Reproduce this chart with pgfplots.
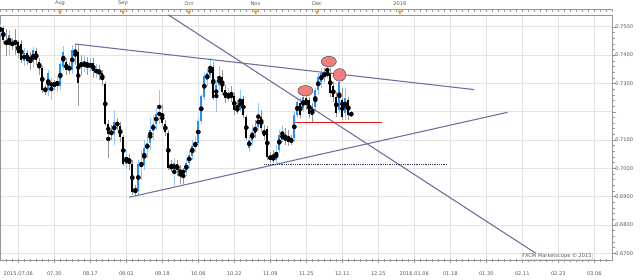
\documentclass[border=0pt]{standalone}
\usepackage{pgfplots}
\pgfplotsset{compat=1.18}
\usepackage{pgfplotstable}
\usepackage{fontspec}
\setmainfont{DejaVu Sans}

\definecolor{upbody}{RGB}{30,144,255}
\definecolor{upwick}{RGB}{150,200,245}
\definecolor{dnwick}{RGB}{150,150,150}
\definecolor{trend}{RGB}{112,112,160}
\definecolor{gridc}{RGB}{228,228,228}
\definecolor{axc}{RGB}{150,150,150}
\definecolor{txt}{RGB}{90,90,90}
\definecolor{ell}{RGB}{240,128,128}
\definecolor{tri}{RGB}{245,160,40}
\definecolor{pricebg}{RGB}{150,210,245}
\definecolor{redline}{RGB}{225,20,20}
\definecolor{dotc}{RGB}{50,50,90}

\pgfplotstableread{
i o h l c
-6 0.7481 0.7510 0.7471 0.7499
-5 0.7495 0.7503 0.7439 0.7453
-4 0.7446 0.7492 0.7397 0.7439
-3 0.7435 0.7488 0.7400 0.7471
-2 0.7443 0.7460 0.7418 0.7437
-1 0.7446 0.7492 0.7400 0.7439
0 0.7446 0.7453 0.7390 0.7407
1 0.7439 0.7453 0.7372 0.7383
2 0.7379 0.7425 0.7361 0.7407
3 0.7407 0.7418 0.7365 0.7379
4 0.7390 0.7411 0.7347 0.7383
5 0.7375 0.7428 0.7354 0.7418
6 0.7414 0.7425 0.7365 0.7383
7 0.7375 0.7390 0.7330 0.7354
8 0.7354 0.7361 0.7266 0.7277
9 0.7280 0.7294 0.7259 0.7277
10 0.7277 0.7347 0.7255 0.7337
11 0.7291 0.7319 0.7241 0.7301
12 0.7301 0.7312 0.7277 0.7294
13 0.7294 0.7326 0.7270 0.7308
14 0.7291 0.7375 0.7277 0.7368
15 0.7358 0.7432 0.7347 0.7411
16 0.7375 0.7390 0.7330 0.7347
17 0.7354 0.7375 0.7333 0.7351
18 0.7347 0.7435 0.7333 0.7418
19 0.7418 0.7439 0.7365 0.7407
20 0.7411 0.7435 0.7220 0.7301
21 0.7375 0.7400 0.7330 0.7358
22 0.7358 0.7400 0.7340 0.7375
23 0.7375 0.7393 0.7330 0.7358
24 0.7358 0.7390 0.7340 0.7368
25 0.7372 0.7390 0.7319 0.7344
26 0.7340 0.7368 0.7319 0.7347
27 0.7347 0.7365 0.7312 0.7337
28 0.7337 0.7347 0.7291 0.7312
29 0.7298 0.7305 0.7150 0.7157
30 0.7157 0.7171 0.7037 0.7121
31 0.7128 0.7153 0.7100 0.7121
32 0.7121 0.7206 0.7082 0.7164
33 0.7164 0.7178 0.7135 0.7150
34 0.7150 0.7164 0.7093 0.7111
35 0.7111 0.7118 0.7008 0.7015
36 0.7015 0.7065 0.7001 0.7040
37 0.7037 0.7051 0.6994 0.7019
38 0.7015 0.7030 0.6906 0.6917
39 0.6922 0.6941 0.6906 0.6918
40 0.6920 0.7030 0.6906 0.7015
41 0.7012 0.7065 0.6959 0.7019
42 0.7012 0.7100 0.6994 0.7072
43 0.7068 0.7118 0.7037 0.7090
44 0.7090 0.7178 0.7065 0.7135
45 0.7132 0.7188 0.7100 0.7157
46 0.7157 0.7213 0.7135 0.7192
47 0.7185 0.7277 0.7157 0.7199
48 0.7195 0.7224 0.7150 0.7160
49 0.7157 0.7171 0.7114 0.7128
50 0.7125 0.7135 0.6994 0.7001
51 0.7008 0.7030 0.6987 0.6999
52 0.6994 0.7037 0.6938 0.7019
53 0.7015 0.7030 0.6973 0.6994
54 0.6994 0.7012 0.6945 0.6984
55 0.6991 0.7001 0.6945 0.6985
56 0.6987 0.7037 0.6973 0.7019
57 0.7019 0.7065 0.7001 0.7047
58 0.7044 0.7100 0.7030 0.7079
59 0.7075 0.7114 0.7058 0.7090
60 0.7090 0.7178 0.7079 0.7167
61 0.7167 0.7262 0.7157 0.7255
62 0.7252 0.7340 0.7241 0.7326
63 0.7312 0.7354 0.7291 0.7337
64 0.7330 0.7390 0.7319 0.7358
65 0.7358 0.7375 0.7241 0.7248
66 0.7248 0.7312 0.7199 0.7294
67 0.7294 0.7361 0.7277 0.7322
68 0.7322 0.7347 0.7259 0.7270
69 0.7277 0.7294 0.7231 0.7248
70 0.7248 0.7284 0.7234 0.7259
71 0.7259 0.7291 0.7234 0.7252
72 0.7255 0.7270 0.7188 0.7206
73 0.7210 0.7241 0.7192 0.7206
74 0.7206 0.7277 0.7199 0.7248
75 0.7245 0.7255 0.7178 0.7188
76 0.7181 0.7188 0.7100 0.7107
77 0.7072 0.7118 0.7058 0.7100
78 0.7097 0.7153 0.7082 0.7128
79 0.7146 0.7171 0.7107 0.7125
80 0.7146 0.7231 0.7135 0.7181
81 0.7181 0.7206 0.7128 0.7142
82 0.7135 0.7153 0.7100 0.7114
83 0.7139 0.7150 0.7030 0.7040
84 0.7044 0.7058 0.7019 0.7030
85 0.7040 0.7065 0.7019 0.7030
86 0.7030 0.7082 0.7019 0.7058
87 0.7065 0.7135 0.7054 0.7118
88 0.7100 0.7153 0.7093 0.7125
89 0.7111 0.7142 0.7082 0.7100
90 0.7111 0.7135 0.7079 0.7093
91 0.7100 0.7118 0.7082 0.7095
92 0.7107 0.7199 0.7093 0.7188
93 0.7188 0.7248 0.7178 0.7234
94 0.7231 0.7248 0.7178 0.7188
95 0.7213 0.7259 0.7199 0.7252
96 0.7248 0.7255 0.7206 0.7224
97 0.7241 0.7252 0.7178 0.7192
98 0.7217 0.7231 0.7164 0.7188
99 0.7217 0.7284 0.7199 0.7277
100 0.7277 0.7337 0.7259 0.7322
101 0.7305 0.7354 0.7284 0.7337
102 0.7337 0.7354 0.7305 0.7326
103 0.7326 0.7375 0.7319 0.7340
104 0.7337 0.7354 0.7252 0.7266
105 0.7291 0.7305 0.7234 0.7252
106 0.7252 0.7270 0.7181 0.7195
107 0.7206 0.7326 0.7195 0.7305
108 0.7241 0.7284 0.7171 0.7181
109 0.7195 0.7284 0.7171 0.7248
110 0.7241 0.7252 0.7171 0.7188
111 0.7192 0.7202 0.7181 0.71909
}\candles

\begin{document}
\begin{tikzpicture}
\useasboundingbox (0pt,0pt) rectangle (640pt,279pt);
\begin{axis}[
  at={(0pt,18.3pt)}, anchor=south west, scale only axis,
  width=612.3pt, height=245.7pt,
  xmin=-6.1, xmax=198, ymin=0.6674, ymax=0.75414,
  axis line style={axc, line width=0.5pt},
  grid=major, major grid style={gridc, line width=0.5pt},
  xtick={0,12,...,192},
  xticklabels={2015.07.06,07.30,08.17,09.02,09.18,10.06,10.22,11.09,11.25,12.11,12.25,2016.01.06,01.18,01.30,02.11,02.23,03.06},
  minor xtick={-4,-2,...,196},
  ytick={0.67,0.68,0.69,0.70,0.71,0.72,0.73,0.74,0.75},
  yticklabels={0.6700,0.6800,0.6900,0.7000,0.7100,{},0.7300,0.7400,0.7500},
  minor y tick num=4,
  xtick pos=lower, ytick pos=right, yticklabel pos=right,
  xtick align=center, ytick align=outside,
  major tick length=4pt, minor tick length=2.5pt,
  every tick/.style={axc, line width=0.4pt},
  scaled y ticks=false,
  yticklabel style={font=\fontsize{5.1}{6}\selectfont, text=txt, xshift=-4.5pt},
  xticklabel style={font=\fontsize{5.1}{6}\selectfont, text=txt, yshift=-5pt},
]
% wicks
\addplot[only marks, mark=none, forget plot, error bars/.cd, y dir=both, y explicit, error mark=none,
  error bar style={draw=upwick, solid, line width=0.6pt, line cap=butt}]
  table[x=i, y expr={\thisrow{c}>=\thisrow{o} ? (\thisrow{h}+\thisrow{l})/2 : nan}, y error expr={(\thisrow{h}-\thisrow{l})/2}] {\candles};
\addplot[only marks, mark=none, forget plot, error bars/.cd, y dir=both, y explicit, error mark=none,
  error bar style={draw=dnwick, solid, line width=0.6pt, line cap=butt}]
  table[x=i, y expr={\thisrow{c}<\thisrow{o} ? (\thisrow{h}+\thisrow{l})/2 : nan}, y error expr={(\thisrow{h}-\thisrow{l})/2}] {\candles};
% bodies
\addplot[only marks, mark=none, forget plot, error bars/.cd, y dir=both, y explicit, error mark=none,
  error bar style={draw=upbody, solid, line width=2.3pt, line cap=butt}]
  table[x=i, y expr={\thisrow{c}>=\thisrow{o} ? (\thisrow{o}+\thisrow{c})/2 : nan}, y error expr={(\thisrow{c}-\thisrow{o})/2}] {\candles};
\addplot[only marks, mark=none, forget plot, error bars/.cd, y dir=both, y explicit, error mark=none,
  error bar style={draw=black, solid, line width=2.3pt, line cap=butt}]
  table[x=i, y expr={\thisrow{c}<\thisrow{o} ? (\thisrow{o}+\thisrow{c})/2 : nan}, y error expr={(\thisrow{o}-\thisrow{c})/2}] {\candles};
% trend lines
\addplot[trend, line width=1.1pt] coordinates {(18.9,0.7439) (152,0.7278)};
\addplot[trend, line width=1.1pt] coordinates {(37,0.6898) (163.1,0.7198)};
\addplot[trend, line width=1.1pt] coordinates {(50,0.7542) (176.3,0.6674)};
\addplot[redline, line width=1.4pt] coordinates {(92.2,0.7161) (121.1,0.7161)};
\addplot[dotc, line width=0.8pt, densely dotted] coordinates {(82,0.7014) (143.1,0.7014)};
% ellipses
\addplot[only marks, mark=*, mark size=5.2pt, mark options={xscale=1.45, fill=ell, draw=black!70, line width=0.5pt}] coordinates {(95.7,0.7274) (103.5,0.7377)};
\addplot[only marks, mark=*, mark size=6.3pt, mark options={fill=ell, draw=black!70, line width=0.5pt}] coordinates {(107.1,0.7330)};
\node[anchor=south east, font=\fontsize{5.1}{6}\selectfont, text=txt, fill=white, draw=gray!25, inner sep=0.8pt] at (rel axis cs:0.968,0.004) {FXCM Marketscope © 2015};
\node[anchor=west, font=\fontsize{5.1}{6}\selectfont, text=black!75, fill=pricebg, inner sep=0.8pt] at (axis cs:198,0.71909) {0.71909};
\end{axis}
% top strip
\begin{axis}[
  at={(0pt,264.7pt)}, anchor=south west, scale only axis,
  width=612.3pt, height=5pt,
  xmin=-6.1, xmax=198, ymin=0, ymax=1,
  axis x line*=top, axis y line=none, ytick=\empty,
  axis line style={axc, line width=0.5pt},
  xtick={13.9,34.9,56.9,79.1,99.6,127.2},
  xticklabels={Aug,Sep,Oct,Nov,Dec,2016},
  minor xtick={-6,-4,...,198},
  tick align=inside, major tick length=0pt, minor tick length=3pt,
  every tick/.style={axc, line width=0.4pt},
  xticklabel style={font=\fontsize{5.1}{6}\selectfont, text=txt},
]
\addplot[only marks, mark=triangle*, mark size=2.2pt, mark options={rotate=180, fill=tri, draw=tri}] coordinates {(13.9,0.45) (34.9,0.45) (56.9,0.45) (79.1,0.45) (99.6,0.45) (127.2,0.45)};
\end{axis}
\end{tikzpicture}
\end{document}
